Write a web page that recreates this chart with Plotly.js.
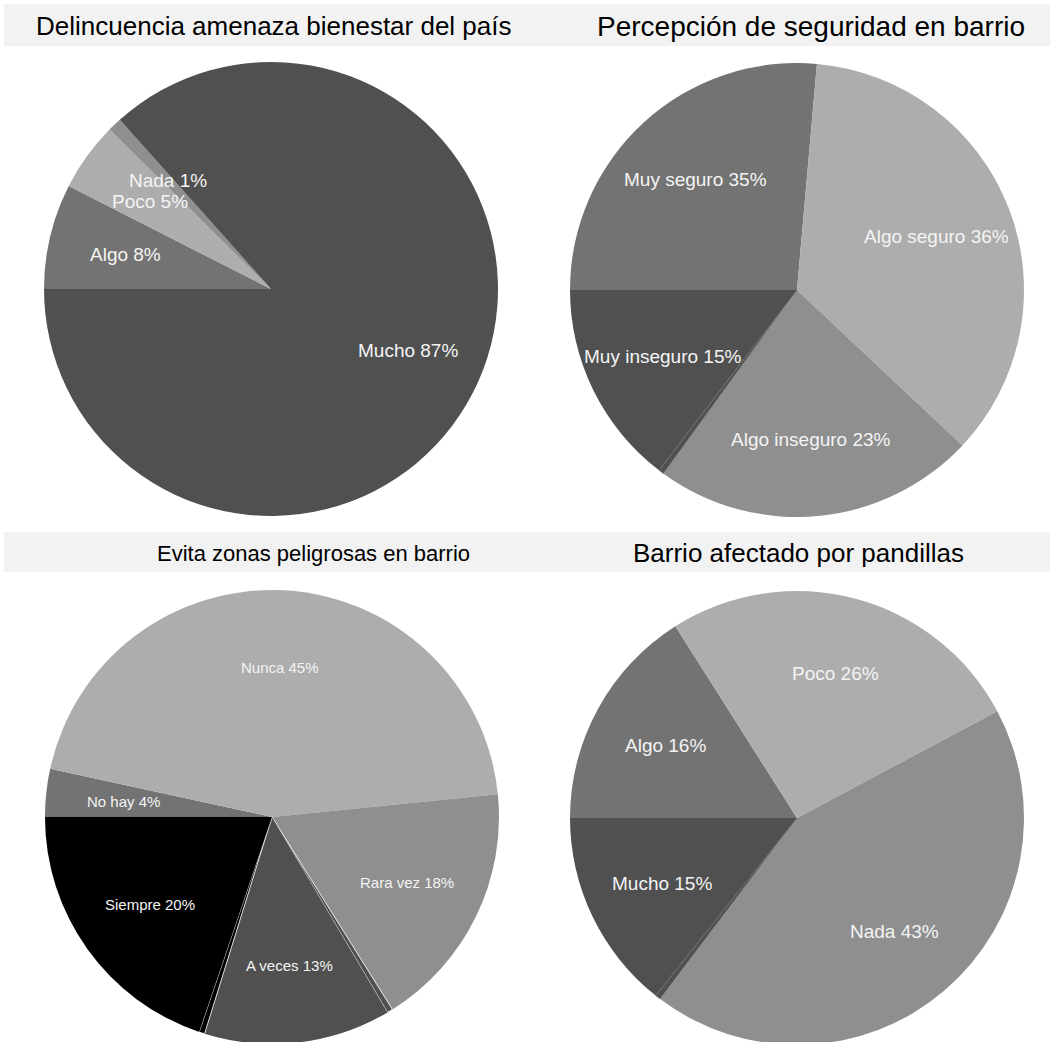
<!DOCTYPE html>
<html>
<head>
<meta charset="utf-8">
<script src="https://cdn.plot.ly/plotly-3.0.1.min.js"></script>
<style>
html,body{margin:0;padding:0;overflow:hidden;background:#fff;}
#chart{width:1050px;height:1046px;}
</style>
</head>
<body>
<div id="chart"></div>
<script>
// ---- data ----
const titles = ["Delincuencia amenaza bienestar del país", "Percepción de seguridad en barrio",
                "Evita zonas peligrosas en barrio", "Barrio afectado por pandillas"];

// Panel 1
const p1Labels = ["Algo", "Poco", "Nada", "Mucho"];
const p1Shares = [7.5, 4.9, 1.0, 86.6];
const p1Pct    = [8, 5, 1, 87];
const p1Colors = ["#737373", "#adadad", "#8f8f8f", "#505050"];

// Panel 2
const p2Labels = ["Muy seguro", "Algo seguro", "Algo inseguro", "", "Muy inseguro"];
const p2Shares = [26.4, 35.6, 23.0, 0.4, 14.6];
const p2Pct    = [35, 36, 23, null, 15];
const p2Colors = ["#737373", "#adadad", "#8f8f8f", "#505050", "#505050"];

// Panel 3
const p3Labels = ["No hay", "Nunca", "Rara vez", "", "A veces", "", "Siempre"];
const p3Shares = [3.4, 45.0, 17.7, 0.4, 13.3, 0.4, 19.8];
const p3Pct    = [4, 45, 18, null, 13, null, 20];
const p3Colors = ["#737373", "#adadad", "#8f8f8f", "#505050", "#505050", "#000000", "#000000"];

// Panel 4
const p4Labels = ["Algo", "Poco", "Nada", "", "Mucho"];
const p4Shares = [16.0, 26.2, 43.1, 0.4, 14.3];
const p4Pct    = [16, 26, 43, null, 15];
const p4Colors = ["#737373", "#adadad", "#8f8f8f", "#505050", "#505050"];

// ---- layout geometry ----
const W = 1050, H = 1046;
const R = 227;
const font = "Liberation Sans, Arial, Helvetica, sans-serif";
const panels = [
  {labels: p1Labels, shares: p1Shares, pct: p1Pct, colors: p1Colors, cx: 271, cy: 289, title: titles[0], tx: 274, ty: 26, ts: 26, fs: 19, sliverLine: "#8a8a8a"},
  {labels: p2Labels, shares: p2Shares, pct: p2Pct, colors: p2Colors, cx: 797, cy: 290, title: titles[1], tx: 811, ty: 26, ts: 28, fs: 19, sliverLine: "#8a8a8a"},
  {labels: p3Labels, shares: p3Shares, pct: p3Pct, colors: p3Colors, cx: 272, cy: 817, title: titles[2], tx: 313, ty: 553, ts: 22, fs: 15, sliverLine: "#ffffff"},
  {labels: p4Labels, shares: p4Shares, pct: p4Pct, colors: p4Colors, cx: 797, cy: 818, title: titles[3], tx: 798, ty: 553, ts: 26, fs: 19, sliverLine: "#8a8a8a"}
];

const traces = [];
const annotations = [];

panels.forEach(p => {
  const names = p.labels.map((l, i) => l === "" ? "sliver" + i : l);
  traces.push({
    type: "pie",
    labels: names,
    values: p.shares,
    sort: false,
    direction: "clockwise",
    rotation: 270,
    textinfo: "none",
    hoverinfo: "none",
    showlegend: false,
    marker: {
      colors: p.colors,
      line: {
        color: p.labels.map(l => l === "" ? p.sliverLine : "rgba(0,0,0,0)"),
        width: p.labels.map(l => l === "" ? 0.8 : 0)
      }
    },
    domain: {
      x: [(p.cx - R) / W, (p.cx + R) / W],
      y: [1 - (p.cy + R) / H, 1 - (p.cy - R) / H]
    }
  });
  // labels placed at 0.66 R on each slice's middle angle
  const total = p.shares.reduce((a, b) => a + b, 0);
  let cum = 0;
  p.shares.forEach((v, i) => {
    const mid = 270 + (cum + v / 2) / total * 360;
    cum += v;
    if (p.labels[i] === "") return;
    const a = mid * Math.PI / 180;
    const px = p.cx + 0.66 * R * Math.sin(a);
    const py = p.cy - 0.66 * R * Math.cos(a);
    annotations.push({
      xref: "paper", yref: "paper", x: px / W, y: 1 - py / H,
      xanchor: "center", yanchor: "middle", showarrow: false,
      text: p.labels[i] + " " + p.pct[i] + "%",
      font: {family: font, size: p.fs, color: "#f4f4f4"}
    });
  });
  annotations.push({
    xref: "paper", yref: "paper", x: p.tx / W, y: 1 - p.ty / H,
    xanchor: "center", yanchor: "middle", showarrow: false,
    text: p.title,
    font: {family: font, size: p.ts, color: "#000000"}
  });
});

const shapes = [
  {type: "rect", xref: "paper", yref: "paper", x0: 4 / W, x1: 1, y0: 1 - 46 / H, y1: 1 - 4 / H,
   fillcolor: "#f2f2f2", line: {width: 0}, layer: "below"},
  {type: "rect", xref: "paper", yref: "paper", x0: 4 / W, x1: 1, y0: 1 - 572 / H, y1: 1 - 532 / H,
   fillcolor: "#f2f2f2", line: {width: 0}, layer: "below"}
];

const layout = {
  width: W, height: H,
  margin: {l: 0, r: 0, t: 0, b: 0},
  paper_bgcolor: "#ffffff",
  plot_bgcolor: "#ffffff",
  annotations: annotations,
  shapes: shapes,
  font: {family: font}
};

Plotly.newPlot("chart", traces, layout, {staticPlot: true, displayModeBar: false});
</script>
</body>
</html>
